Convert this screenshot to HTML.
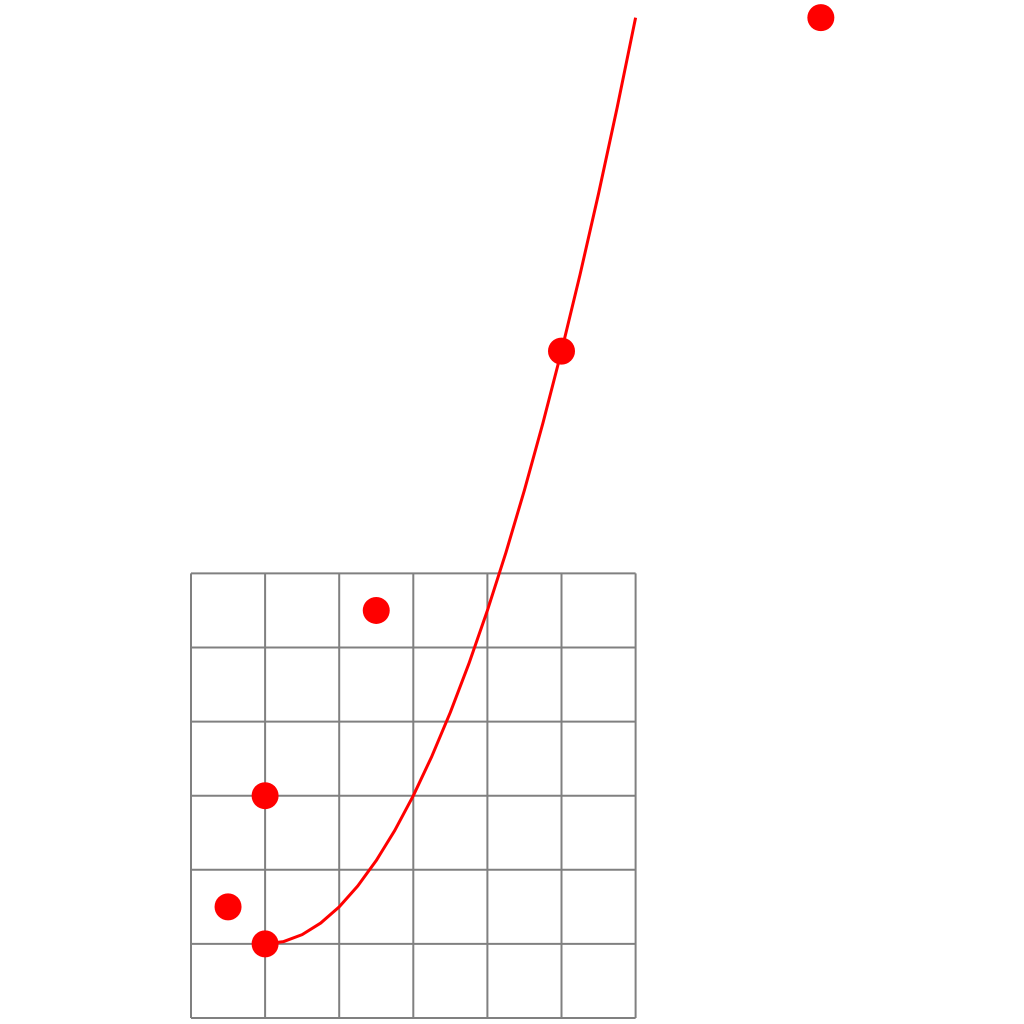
<!DOCTYPE html>
<html><head><meta charset="utf-8"><style>
html,body{margin:0;padding:0;background:#fff;}
svg{display:block;}
</style></head><body>
<svg id="chart" width="1024" height="1024" xmlns="http://www.w3.org/2000/svg">
<g id="grid"></g>
<g id="curve"></g>
<g id="points"></g>
</svg>
<script>
const gridTicks = [0,1,2,3,4,5,6];
const pointX = [0.5, 1, 1, 2.5, 5, 8.5];
const pointY = [1.5, 1, 3, 5.5, 9, 13.5];
const curveX = [1,1.25,1.5,1.75,2,2.25,2.5,2.75,3,3.25,3.5,3.75,4,4.25,4.5,4.75,5,5.25,5.5,5.75,6];
const curveY = [1,1.03125,1.125,1.28125,1.5,1.78125,2.125,2.53125,3,3.53125,4.125,4.78125,5.5,6.28125,7.125,8.03125,9,10.03125,11.125,12.28125,13.5];

const NS = "http://www.w3.org/2000/svg";
const x0 = 191, y0 = 1018, unit = 74.1;
function sx(v){ return x0 + v*unit; }
function sy(v){ return y0 - v*unit; }

const grid = document.getElementById('grid');
const gmin = gridTicks[0], gmax = gridTicks[gridTicks.length-1];
gridTicks.forEach(t => {
  const v = document.createElementNS(NS,'line');
  v.setAttribute('x1', sx(t)); v.setAttribute('x2', sx(t));
  v.setAttribute('y1', sy(gmin)); v.setAttribute('y2', sy(gmax));
  v.setAttribute('stroke','#808080'); v.setAttribute('stroke-width','2');
  
  
  grid.appendChild(v);
  const h = document.createElementNS(NS,'line');
  h.setAttribute('y1', sy(t)); h.setAttribute('y2', sy(t));
  h.setAttribute('x1', sx(gmin)); h.setAttribute('x2', sx(gmax));
  h.setAttribute('stroke','#808080'); h.setAttribute('stroke-width','2');
  
  
  grid.appendChild(h);
});

const curve = document.getElementById('curve');
const path = document.createElementNS(NS,'polyline');
path.setAttribute('points', curveX.map((x,i)=> sx(x)+','+sy(curveY[i])).join(' '));
path.setAttribute('fill','none');
path.setAttribute('stroke','#ff0000');
path.setAttribute('stroke-width','3');
path.setAttribute('stroke-linejoin','round');


curve.appendChild(path);

const pts = document.getElementById('points');
pointX.forEach((x,i) => {
  const c = document.createElementNS(NS,'circle');
  c.setAttribute('cx', sx(x)); c.setAttribute('cy', sy(pointY[i]));
  c.setAttribute('r', 13.5);
  c.setAttribute('fill', '#ff0000');
  
  
  pts.appendChild(c);
});
</script>
</body></html>
